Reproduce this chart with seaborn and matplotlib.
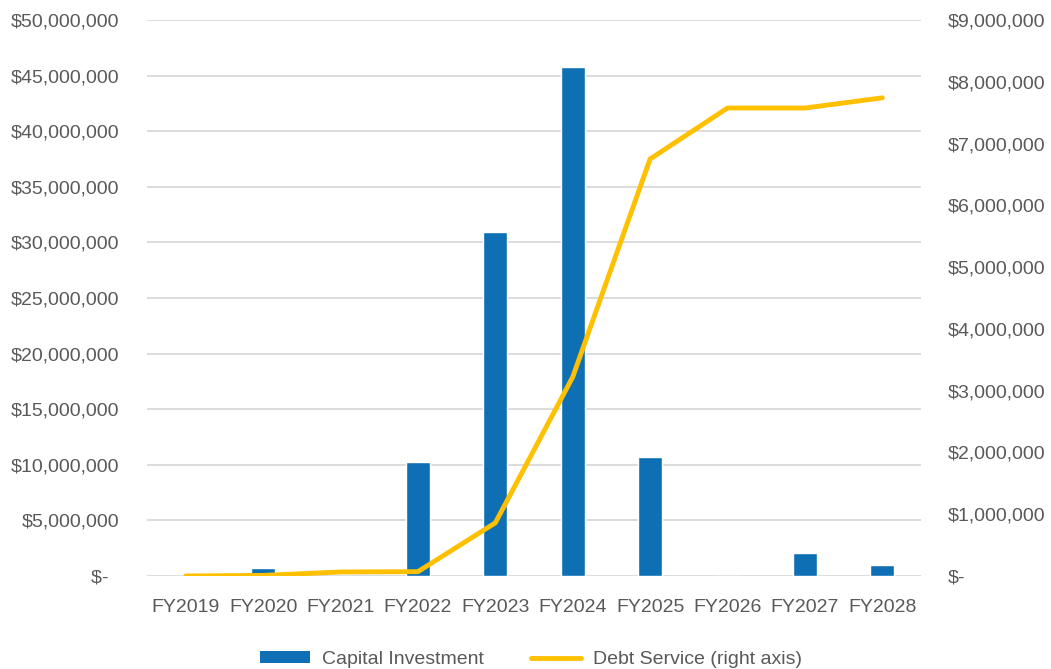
import numpy as np
import pandas as pd
import matplotlib
matplotlib.use("Agg")
import matplotlib.pyplot as plt
from matplotlib.ticker import FuncFormatter, MultipleLocator
from matplotlib.lines import Line2D
from matplotlib.patches import Patch
import seaborn as sns

# Fiscal years and the two series
years = ["FY2019", "FY2020", "FY2021", "FY2022", "FY2023",
         "FY2024", "FY2025", "FY2026", "FY2027", "FY2028"]
capital_investment = [0, 750_000, 0, 10_250_000, 30_900_000,
                      45_800_000, 10_700_000, 0, 2_050_000, 1_000_000]
debt_service = [0, 10_000, 65_000, 70_000, 860_000,
                3_220_000, 6_750_000, 7_575_000, 7_575_000, 7_740_000]

bar_color = "#0F6FB4"
line_color = "#FFC000"
text_color = "#595959"
grid_color = "#D9D9D9"

sns.set_theme(style="white")
plt.rcParams["font.family"] = ["Liberation Sans", "DejaVu Sans"]

df = pd.DataFrame({"year": years,
                   "capital": capital_investment,
                   "debt": debt_service})
df["pos"] = np.arange(len(years))

fig = plt.figure(figsize=(10.51, 6.69), dpi=100)
ax = fig.add_axes([147 / 1051, 1 - 576 / 669, (921 - 147) / 1051, (576 - 20) / 669])

sns.barplot(data=df, x="year", y="capital", color=bar_color, width=0.31,
            saturation=1, ax=ax, zorder=2)

ax2 = ax.twinx()
sns.lineplot(data=df, x="pos", y="debt", color=line_color, linewidth=3.5,
             ax=ax2, sort=False, zorder=3)
ax2.lines[0].set_solid_capstyle("round")
ax2.lines[0].set_solid_joinstyle("miter")

ax.set_xlim(-0.5, len(years) - 0.5)
ax.set_ylim(0, 50_000_000)
ax2.set_ylim(0, 9_000_000)
ax.yaxis.set_major_locator(MultipleLocator(5_000_000))
ax2.yaxis.set_major_locator(MultipleLocator(1_000_000))


def left_fmt(v, _):
    return "$-  " if abs(v) < 1 else f"${v:,.0f}"


def right_fmt(v, _):
    return "$-" if abs(v) < 1 else f"${v:,.0f}"


ax.yaxis.set_major_formatter(FuncFormatter(left_fmt))
ax2.yaxis.set_major_formatter(FuncFormatter(right_fmt))

ax.grid(axis="y", color=grid_color, linewidth=1.3, zorder=0)
ax.set_axisbelow(True)
ax.set_xlabel("")
ax.set_ylabel("")
ax2.set_xlabel("")
ax2.set_ylabel("")

for a in (ax, ax2):
    for s in a.spines.values():
        s.set_visible(False)
ax.tick_params(axis="y", length=0, pad=20, labelsize=14, labelcolor=text_color)
ax.tick_params(axis="x", length=0, pad=16.5, labelsize=14, labelcolor=text_color)
ax2.tick_params(axis="y", length=0, pad=19, labelsize=14, labelcolor=text_color)

handles = [Patch(facecolor=bar_color, edgecolor="none"),
           Line2D([0], [0], color=line_color, linewidth=3.5, solid_capstyle="round")]
labels = ["Capital Investment", "Debt Service (right axis)"]
leg = fig.legend(handles, labels, loc="center", bbox_to_anchor=(0.505, 0.014),
                 ncol=2, frameon=False, fontsize=14, handlelength=2.6,
                 handleheight=0.6, handletextpad=0.6, columnspacing=2.4,
                 labelcolor=text_color)

fig.savefig("out.png", dpi=100)
